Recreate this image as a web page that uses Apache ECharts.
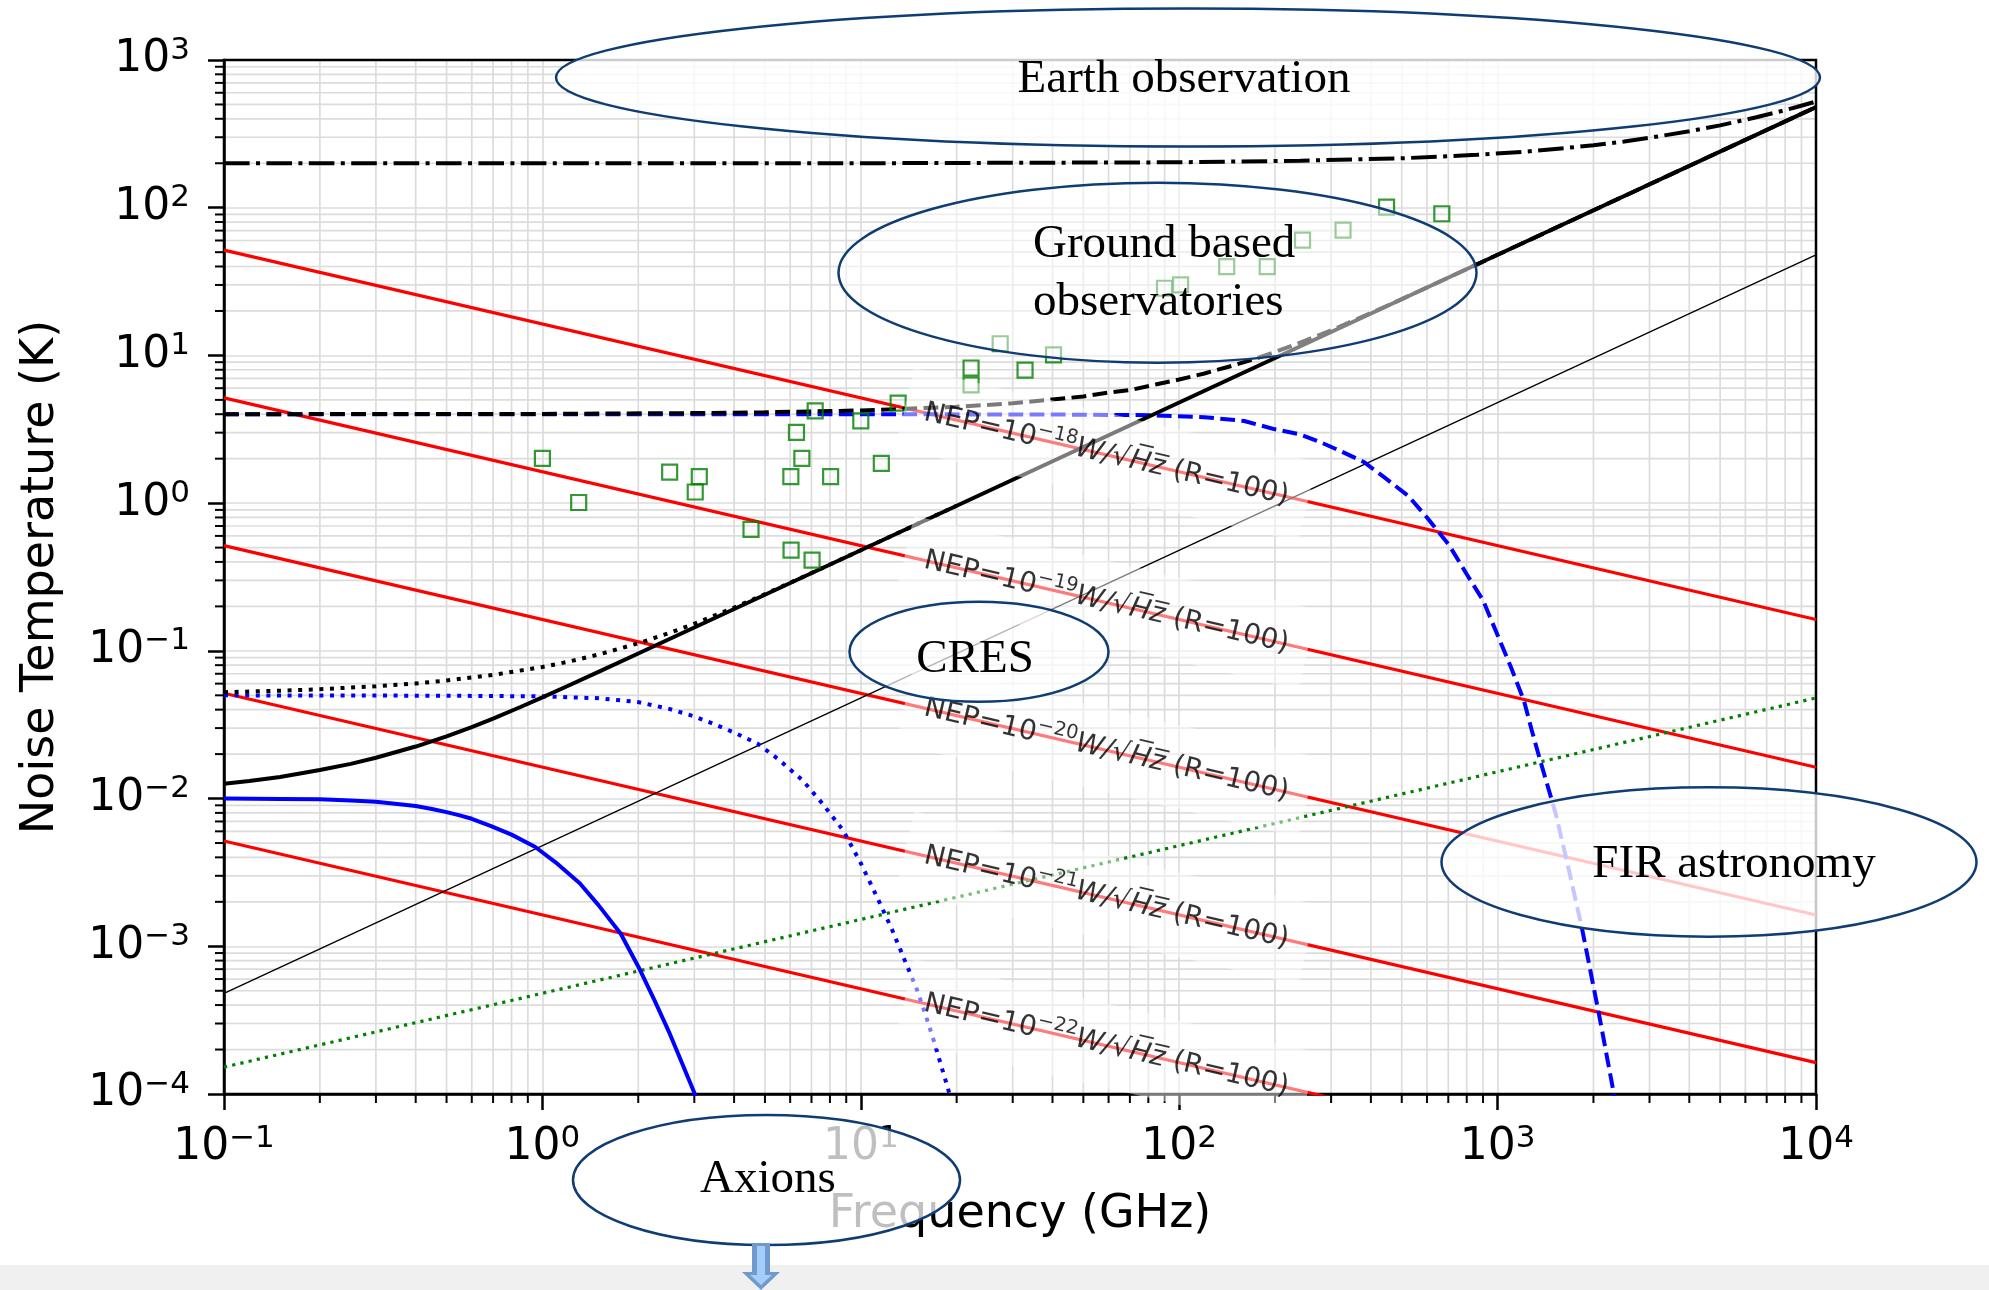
<!DOCTYPE html>
<html>
<head>
<meta charset="utf-8">
<script src="https://cdn.jsdelivr.net/npm/echarts@6/dist/echarts.min.js"></script>
<style>
  html, body { margin: 0; padding: 0; background: #ffffff; }
  #chart { width: 1989px; height: 1290px; }
</style>
</head>
<body>
<div id="chart"></div>
<script>
// ---- data (frequency in GHz, noise temperature in K) ----
const lineEndFreqs = [0.1, 10000];

// NEP = 1e-18 ... 1e-22 W/sqrt(Hz), R = 100: straight lines, temperature at the two end frequencies
const nepLow = [51.6, 5.16, 0.516, 0.0516, 0.00516];
const nepHigh = [0.163, 0.0163, 0.00163, 0.000163, 0.0000163];
const nepExponents = ['−18', '−19', '−20', '−21', '−22'];
const nepLabelFreq = 59;

// thin reference line and green dotted line (end values)
const thinLine = [0.00048, 48];
const greenDotted = [0.000152, 0.048];

// quantum-limited curves at 10 mK (solid), 50 mK (dotted), 4 K (dashed)
const q10mkFreq = [0.1, 0.12, 0.15, 0.2, 0.25, 0.3, 0.4, 0.5, 0.6, 0.7, 0.85, 1, 1.2, 1.5, 2, 3, 5, 10, 100, 1000, 10000];
const q10mkTemp = [0.0126, 0.01315, 0.0140, 0.0156, 0.01717, 0.0189, 0.0225, 0.0264, 0.0305, 0.0348, 0.0415, 0.0484, 0.0578, 0.0721, 0.096, 0.144, 0.24, 0.48, 4.8, 48, 480];
const q50mkFreq = [0.1, 0.15, 0.2, 0.3, 0.4, 0.5, 0.7, 1, 1.2, 1.5, 2, 2.5, 3, 4, 5, 7, 10, 20];
const q50mkTemp = [0.0525, 0.0537, 0.0550, 0.0576, 0.0602, 0.0630, 0.0687, 0.0778, 0.0842, 0.0944, 0.1125, 0.132, 0.1526, 0.1962, 0.242, 0.3364, 0.48, 0.96];
const q4kFreq = [0.1, 1, 3, 5, 10, 20, 30, 40, 50, 60, 70, 85, 100, 120, 150, 175, 200, 250, 300, 400, 500, 700, 1000, 10000];
const q4kTemp = [4.0, 4.02, 4.07, 4.12, 4.24, 4.49, 4.74, 5.04, 5.27, 5.61, 5.82, 6.38, 6.87, 7.55, 8.63, 9.57, 10.56, 12.63, 14.8, 19.36, 24.06, 33.6, 48.0, 480];

// thermal curves at 10 mK (solid), 50 mK (dotted), 4 K (dashed)
const th10mkFreq = [0.1, 0.15, 0.2, 0.25, 0.3, 0.35, 0.4, 0.45, 0.5, 0.55, 0.6, 0.69, 0.8, 0.95, 1.1, 1.31, 1.5, 1.76, 2.0, 2.25, 2.51, 2.75, 3.0, 3.2];
const th10mkTemp = [0.0100, 0.00995, 0.0099, 0.0097, 0.0095, 0.0092, 0.0089, 0.0085, 0.0081, 0.0077, 0.0073, 0.0065, 0.0057, 0.0047, 0.0037, 0.00267, 0.0019, 0.00122, 0.00073, 0.00043, 0.000257, 0.00016, 0.000102, 0.000068];
const th50mkFreq = [0.1, 0.5, 1, 1.5, 2, 2.5, 3, 3.45, 4, 4.75, 5.5, 6.55, 7.5, 8.8, 10, 11.25, 12.55, 13.75, 15, 16, 17, 19, 20];
const th50mkTemp = [0.050, 0.0497, 0.0492, 0.0478, 0.045, 0.0405, 0.036, 0.032, 0.028, 0.0235, 0.0185, 0.01335, 0.0095, 0.0061, 0.00365, 0.00215, 0.00129, 0.0008, 0.00051, 0.00034, 0.000225, 0.0001, 0.00006];
const th4kFreq = [0.1, 1, 10, 40, 80, 120, 160, 200, 240, 276, 320, 380, 440, 524, 600, 704, 800, 900, 1004, 1100, 1210, 1280, 1360, 1520, 1640, 1836, 2080, 2300, 2400];
const th4kTemp = [4.0, 4.0, 4.0, 3.98, 3.94, 3.82, 3.6, 3.16, 2.92, 2.6, 2.26, 1.9, 1.5, 1.12, 0.8, 0.52, 0.33, 0.22, 0.125, 0.078, 0.046, 0.029, 0.0182, 0.008, 0.004, 0.00136, 0.00035, 0.00011, 0.00006];

// 200 K receiver curve (dash-dot)
const warmFreq = [0.1, 1, 10, 100, 240, 500, 860, 1200, 1620, 2000, 2500, 3050, 4000, 5000, 5750, 6500, 7500, 8700, 10000];
const warmTemp = [200, 200, 200, 203, 208, 216, 228, 239, 253, 265, 281, 299, 329, 361, 386, 410, 442, 481, 523];

// measured amplifiers (frequency, noise temperature)
const ampFreq = [1.00, 1.30, 2.51, 3.11, 3.02, 4.52, 6.04, 7.03, 6.03, 6.53, 6.28, 7.19, 8.04, 10.0, 11.6, 13.1, 22.2, 22.2, 27.4, 32.8, 40.3, 89.9, 101, 141, 189, 244, 327, 448, 668];
const ampTemp = [2.01, 1.01, 1.62, 1.51, 1.19, 0.665, 0.481, 0.412, 1.51, 2.01, 3.01, 4.21, 1.51, 3.60, 1.86, 4.75, 6.31, 8.22, 12.0, 7.96, 10.1, 28.5, 30.0, 39.9, 39.9, 60.4, 70.6, 101, 91];

// ---- helpers ----
const sans = '"DejaVu Sans", sans-serif';
const serif = '"Liberation Serif", "Times New Roman", serif';
const zip = (xs, ys) => xs.map((x, i) => [x, ys[i]]);
const gridColor = '#dcdcdc';

function lineSeries(data, style, z) {
  return {
    type: 'line', data: data, symbol: 'none', showSymbol: false, silent: true,
    clip: true, z: z, smooth: false, lineStyle: style
  };
}

// minor decade ticks (2..9 x 10^n)
const minorX = [], minorY = [];
for (let e = -5; e <= 4; e++) {
  for (let k = 2; k <= 9; k++) {
    const v = k * Math.pow(10, e);
    if (v > 0.1 && v < 10000) minorX.push([v, 1]);
    if (v > 1e-4 && v < 1000) minorY.push([1, v]);
  }
}

function tickLabel(v) {
  const e = Math.round(Math.log10(v));
  return '{b|10}{s|' + (e < 0 ? '−' + (-e) : e) + '}';
}
const tickRich = {
  b: { fontSize: 44, fontFamily: sans, color: '#000', lineHeight: 50 },
  s: { fontSize: 31, fontFamily: sans, color: '#000', lineHeight: 28, verticalAlign: 'top' }
};

const series = [];

// minor grid lines and ticks
series.push({
  type: 'custom', z: -1, silent: true, clip: false, data: minorX,
  encode: { x: 0, y: 1 },
  renderItem: function (params, api) {
    const p = api.coord([api.value(0), 1]);
    const cs = params.coordSys;
    return { type: 'group', children: [
      { type: 'line', shape: { x1: p[0], y1: cs.y, x2: p[0], y2: cs.y + cs.height }, style: { stroke: gridColor, lineWidth: 1.7 } },
      { type: 'line', shape: { x1: p[0], y1: cs.y + cs.height, x2: p[0], y2: cs.y + cs.height + 9 }, style: { stroke: '#000', lineWidth: 2 } }
    ] };
  }
});
series.push({
  type: 'custom', z: -1, silent: true, clip: false, data: minorY,
  encode: { x: 0, y: 1 },
  renderItem: function (params, api) {
    const p = api.coord([1, api.value(1)]);
    const cs = params.coordSys;
    return { type: 'group', children: [
      { type: 'line', shape: { x1: cs.x, y1: p[1], x2: cs.x + cs.width, y2: p[1] }, style: { stroke: gridColor, lineWidth: 1.7 } },
      { type: 'line', shape: { x1: cs.x - 9, y1: p[1], x2: cs.x, y2: p[1] }, style: { stroke: '#000', lineWidth: 2 } }
    ] };
  }
});

// NEP lines
nepLow.forEach((lo, i) => {
  series.push(lineSeries(zip(lineEndFreqs, [lo, nepHigh[i]]), { color: '#ff0000', width: 3.2 }, 3));
});
series.push(lineSeries(zip(lineEndFreqs, thinLine), { color: '#000', width: 1.3 }, 3));
series.push(lineSeries(zip(lineEndFreqs, greenDotted), { color: '#008000', width: 3.2, type: [3.2, 5.2] }, 3));

// thermal curves (blue)
series.push(lineSeries(zip(th10mkFreq, th10mkTemp), { color: '#0000ff', width: 4 }, 4));
series.push(lineSeries(zip(th50mkFreq, th50mkTemp), { color: '#0000ff', width: 4, type: [4, 6.6] }, 4));
series.push(lineSeries(zip(th4kFreq, th4kTemp), { color: '#0000ff', width: 4, type: [14.8, 6.4] }, 4));

// quantum-limited curves (black)
series.push(lineSeries(zip(q10mkFreq, q10mkTemp), { color: '#000', width: 4 }, 5));
series.push(lineSeries(zip(q50mkFreq, q50mkTemp), { color: '#000', width: 4, type: [4, 6.6] }, 5));
series.push(lineSeries(zip(q4kFreq, q4kTemp), { color: '#000', width: 4, type: [14.8, 6.4] }, 5));
series.push(lineSeries(zip(warmFreq, warmTemp), { color: '#000', width: 4, type: [25.6, 6.4, 4, 6.4] }, 5));

// amplifier points
series.push({
  type: 'scatter', z: 6, silent: true, data: zip(ampFreq, ampTemp),
  symbol: 'rect', symbolSize: 15,
  itemStyle: { color: 'rgba(0,0,0,0)', borderColor: '#008000', borderWidth: 2.2 }
});

// inline NEP labels, placed on each line at the label frequency
const nepLabelData = nepLow.map((lo, i) => {
  const s = Math.log10(nepHigh[i] / lo) / Math.log10(lineEndFreqs[1] / lineEndFreqs[0]);
  const t = lo * Math.pow(nepLabelFreq / lineEndFreqs[0], s);
  return [nepLabelFreq, t];
});
series.push({
  type: 'scatter', z: 20, silent: true, data: nepLabelData,
  symbolSize: 1, itemStyle: { color: 'rgba(0,0,0,0)' },
  label: {
    show: true, position: 'inside', rotate: -13.07,
    backgroundColor: 'rgba(255,255,255,0.6)', padding: [22, 20],
    formatter: function (p) {
      return '{a|NEP=10}{s|' + nepExponents[p.dataIndex] + '}{i|W/√H\u0305z\u0305}{a| (R=100)}';
    },
    rich: {
      a: { fontSize: 28, fontFamily: sans, color: '#000', lineHeight: 38 },
      i: { fontSize: 28, fontFamily: sans, fontStyle: 'italic', color: '#000', lineHeight: 38 },
      s: { fontSize: 19.5, fontFamily: sans, color: '#000', lineHeight: 20, verticalAlign: 'top' }
    }
  }
});

// ---- annotation overlays ----
const ellipseStroke = '#0f3d73';
function ellipse(cx, cy, rx, ry, alpha) {
  return { type: 'ellipse', z: 100, silent: true, shape: { cx: cx, cy: cy, rx: rx, ry: ry },
           style: { fill: 'rgba(255,255,255,' + alpha + ')', stroke: ellipseStroke, lineWidth: 2.5 } };
}
function note(text, x, y, align) {
  return { type: 'text', z: 101, silent: true, x: x, y: y,
           style: { text: text, font: '47px ' + serif, fill: '#000', align: align || 'center', verticalAlign: 'middle' } };
}

const graphics = [
  ellipse(1188, 77.5, 632, 69, 0.8),
  note('Earth observation', 1184, 79.5),
  ellipse(1157.5, 272.7, 319, 90, 0.5),
  note('Ground based', 1033, 245, 'left'),
  note('observatories', 1033, 303, 'left'),
  ellipse(979, 651.7, 129.5, 50, 0.7),
  note('CRES', 975, 660),
  ellipse(1709, 862, 267.5, 74.7, 0.78),
  note('FIR astronomy', 1734, 865),
  ellipse(766.5, 1180, 193.5, 65, 0.75),
  note('Axions', 768, 1180),
  { type: 'rect', z: 102, silent: true, shape: { x: 0, y: 1265, width: 1989, height: 25 }, style: { fill: '#f0f0f0' } },
  { type: 'polygon', z: 103, silent: true,
    shape: { points: [[752, 1243], [770, 1243], [770, 1272], [780, 1272], [761, 1290], [742, 1272], [752, 1272]] },
    style: { fill: '#7099cc' } },
  { type: 'polygon', z: 104, silent: true,
    shape: { points: [[757, 1246], [765, 1246], [765, 1275], [772, 1275], [761, 1285], [750, 1275], [757, 1275]] },
    style: { fill: '#a3cdfb' } }
];

const chart = echarts.init(document.getElementById('chart'), null, { renderer: 'canvas' });
chart.setOption({
  animation: false,
  backgroundColor: '#ffffff',
  grid: { left: 224, top: 60, width: 1592, height: 1034, show: true, z: 1, borderColor: '#000', borderWidth: 2.5, backgroundColor: 'rgba(0,0,0,0)' },
  xAxis: {
    type: 'log', logBase: 10, min: 0.1, max: 10000, splitNumber: 5,
    name: 'Frequency (GHz)', nameLocation: 'middle', nameGap: 98,
    nameTextStyle: { fontSize: 46, fontFamily: sans, color: '#000' },
    axisLine: { show: true, onZero: false, lineStyle: { color: '#000', width: 2.5 } },
    axisTick: { show: true, length: 16, lineStyle: { color: '#000', width: 2.5 } },
    axisLabel: { margin: 29, formatter: tickLabel, rich: tickRich },
    splitLine: { show: true, lineStyle: { color: gridColor, width: 1.7 } }
  },
  yAxis: {
    type: 'log', logBase: 10, min: 1e-4, max: 1000, splitNumber: 7,
    name: 'Noise Temperature (K)', nameLocation: 'middle', nameGap: 160,
    nameTextStyle: { fontSize: 46, fontFamily: sans, color: '#000' },
    axisLine: { show: true, onZero: false, lineStyle: { color: '#000', width: 2.5 } },
    axisTick: { show: true, length: 16, lineStyle: { color: '#000', width: 2.5 } },
    axisLabel: { margin: 34, formatter: tickLabel, rich: tickRich },
    splitLine: { show: true, lineStyle: { color: gridColor, width: 1.7 } }
  },
  series: series,
  graphic: { elements: graphics }
});
</script>
</body>
</html>
